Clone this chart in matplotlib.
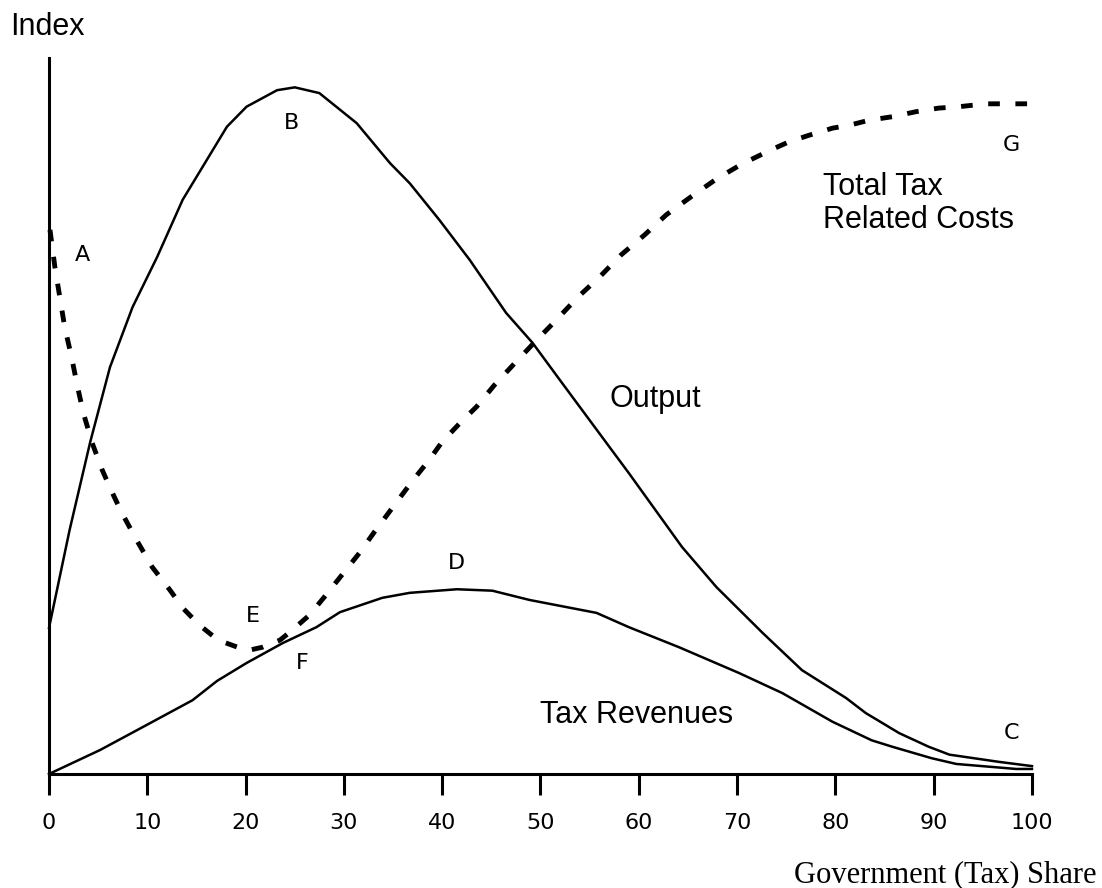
import matplotlib.pyplot as plt
import numpy as np

# Output curve
out_x = [0, 2.1, 4.2, 6.2, 8.5, 11.0, 13.6, 18.1, 20.1, 23.2, 25.0, 27.5, 31.3, 34.7,
         36.7, 39.7, 42.8, 46.5, 49.2, 52.2, 57.0, 59.0, 64.4, 67.9, 72.6, 76.6, 81.1,
         83.1, 86.5, 89.5, 91.6, 96.6, 100]
out_y = [20.4, 34.1, 46.4, 56.8, 65.2, 72.2, 80.2, 90.4, 93.2, 95.5, 95.9, 95.1, 90.9, 85.3,
         82.5, 77.4, 71.8, 64.4, 60.2, 54.6, 45.7, 42.0, 31.7, 26.1, 19.7, 14.5, 10.6,
         8.5, 5.7, 3.8, 2.7, 1.7, 1.1]

# Tax revenues
rev_x = [0, 5.2, 9.55, 14.6, 17.1, 20.1, 23.8, 27.2, 29.6, 33.9, 36.7, 41.5, 45.1, 48.9,
         55.7, 59.0, 64.1, 70.2, 74.6, 79.7, 83.7, 85.8, 89.8, 92.3, 98.4, 100]
rev_y = [0, 3.35, 6.56, 10.3, 13.0, 15.5, 18.3, 20.5, 22.6, 24.6, 25.3, 25.8, 25.6, 24.3,
         22.5, 20.5, 17.7, 14.1, 11.3, 7.3, 4.7, 3.8, 2.2, 1.4, 0.7, 0.7]

# Total tax related costs
cost_x = [0.1, 0.6, 1.1, 1.6, 2.3, 2.9, 3.5, 4.4, 5.4, 6.4, 7.4, 8.9, 10.5, 12.3, 13.6,
          15.3, 17.2, 19.4, 20.4, 21.7, 23.5, 24.5, 26.5, 28.0, 29.8, 31.6, 33.1, 35.0,
          36.9, 38.7, 40.0, 41.8, 43.5, 45.3, 47.4, 49.4, 51.6, 53.8, 56.0, 58.2, 60.6,
          62.8, 65.3, 67.9, 70.5, 73.5, 75.3, 77.3, 79.7, 81.4, 83.4, 85.8, 88.2, 90.5,
          92.6, 95.3, 98.7, 100]
cost_y = [76.0, 70.8, 66.6, 62.4, 58.2, 54.1, 50.4, 46.2, 42.5, 39.4, 36.5, 32.7, 28.9, 25.7,
          23.2, 20.8, 18.7, 17.6, 17.3, 17.7, 18.7, 19.8, 22.2, 24.7, 27.8, 30.9, 33.8, 37.3,
          40.8, 43.9, 46.4, 49.0, 51.3, 54.3, 57.4, 60.3, 63.4, 66.6, 69.4, 72.5, 75.3,
          78.1, 80.6, 83.1, 85.2, 87.2, 88.3, 89.2, 90.2, 90.6, 91.3, 91.8, 92.5, 93.0,
          93.2, 93.6, 93.6, 93.6]

point_names = ["A", "B", "C", "D", "E", "F", "G"]
point_x = [3.45, 24.7, 97.9, 41.5, 20.7, 25.8, 97.9]
point_y = [72.5, 90.9, 5.7, 29.5, 22.1, 15.5, 87.8]

xticks = np.arange(0, 101, 10)

fig = plt.figure(figsize=(11.02, 8.88), dpi=100)
ax = fig.add_axes([0.04446, 0.1284, 0.8920, 0.8063])

ax.plot(out_x, out_y, color="black", lw=1.8, clip_on=False)
ax.plot(rev_x, rev_y, color="black", lw=1.8, clip_on=False)
ax.plot(cost_x, cost_y, color="black", lw=3.5, dashes=(2.4, 3.2), clip_on=False,
        solid_capstyle="butt", dash_capstyle="butt")

for name, px, py in zip(point_names, point_x, point_y):
    ax.text(px, py, name, ha="center", va="center", fontsize=16, family="DejaVu Sans")

sans = "Liberation Sans"
ax.text(78.7, 84.1, "Total Tax\nRelated Costs", ha="left", va="top", fontsize=22,
        family=sans, linespacing=1.15)
ax.text(57.0, 51.3, "Output", ha="left", va="baseline", fontsize=22, family=sans)
ax.text(49.9, 7.1, "Tax Revenues", ha="left", va="baseline", fontsize=22, family=sans)

fig.text(0.009, 0.961, "Index", ha="left", va="baseline", fontsize=22, family=sans)
fig.text(0.995, 0.007, "Government (Tax) Share", ha="right", va="baseline", fontsize=22,
         family="Liberation Serif")

ax.set_xlim(0, 100)
ax.set_ylim(0, 100)
ax.set_xticks(xticks)
ax.set_xticklabels([str(t) for t in xticks], fontsize=16, family="DejaVu Sans")
ax.set_yticks([])
ax.tick_params(axis="x", direction="out", length=15, width=2.2, pad=13)
for s in ["top", "right"]:
    ax.spines[s].set_visible(False)
ax.spines["left"].set_linewidth(2.2)
ax.spines["bottom"].set_linewidth(2.2)

fig.savefig("out.png", dpi=100)
